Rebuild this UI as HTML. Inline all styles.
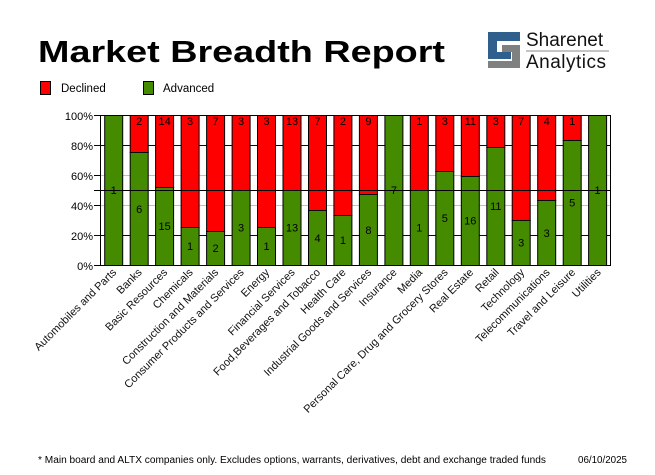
<!DOCTYPE html>
<html><head><meta charset="utf-8"><style>
body{margin:0;background:#fff;width:655px;height:470px;overflow:hidden}
text{font-family:"Liberation Sans",sans-serif}
</style></head><body>
<svg width="655" height="470" viewBox="0 0 655 470" xmlns="http://www.w3.org/2000/svg">
<text x="38" y="62" font-size="31" font-weight="bold" fill="#000" textLength="407" lengthAdjust="spacingAndGlyphs">Market Breadth Report</text>
<!-- logo -->
<g>
<path d="M488 32 H520 V41 H497 V48 H488 Z" fill="#2f5f8c"/>
<path d="M488 41 H497 V52 H511 V59 H488 Z" fill="#2f5f8c"/>
<path d="M502 45 H520 V68 H488 V61 H512 V52 H502 Z" fill="#7f8080"/>
<text x="526" y="46" font-size="19" fill="#111">Sharenet</text>
<line x1="526" y1="51" x2="609" y2="51" stroke="#888" stroke-width="1"/>
<text x="526" y="68" font-size="19" fill="#111" letter-spacing="0.5">Analytics</text>
</g>
<!-- legend -->
<rect x="40.5" y="81.5" width="10" height="13" fill="#ff0000" stroke="#000"/>
<text x="61" y="92" font-size="11.5">Declined</text>
<rect x="143.5" y="81.5" width="10" height="13" fill="#458b00" stroke="#000"/>
<text x="163" y="92" font-size="11.5">Advanced</text>
<!-- grid -->
<g stroke-width="1">
<line x1="94" y1="145.5" x2="611" y2="145.5" stroke="#000060"/>
<line x1="94" y1="235.5" x2="611" y2="235.5" stroke="#000060"/>
<line x1="100" y1="175.5" x2="611" y2="175.5" stroke="#c0c0c0"/>
<line x1="100" y1="205.5" x2="611" y2="205.5" stroke="#c0c0c0"/>
<line x1="94" y1="115.5" x2="100" y2="115.5" stroke="#000"/>
<line x1="94" y1="265.5" x2="100" y2="265.5" stroke="#000"/>
<line x1="94" y1="175.5" x2="100" y2="175.5" stroke="#000"/>
<line x1="94" y1="205.5" x2="100" y2="205.5" stroke="#000"/>
</g>
<g font-size="11" text-anchor="end">
<text x="93" y="120">100%</text><text x="93" y="150">80%</text><text x="93" y="180">60%</text>
<text x="93" y="210">40%</text><text x="93" y="240">20%</text><text x="93" y="270">0%</text>
</g>
<!-- bars -->
<g stroke="#000" stroke-width="1">
<rect x="104.7" y="115.5" width="18" height="150" fill="#458b00"/>
<rect x="130.2" y="115.5" width="18" height="37" fill="#ff0000"/><rect x="130.2" y="152.5" width="18" height="113" fill="#458b00"/>
<rect x="155.6" y="115.5" width="18" height="72" fill="#ff0000"/><rect x="155.6" y="187.5" width="18" height="78" fill="#458b00"/>
<rect x="181.1" y="115.5" width="18" height="112" fill="#ff0000"/><rect x="181.1" y="227.5" width="18" height="38" fill="#458b00"/>
<rect x="206.6" y="115.5" width="18" height="116" fill="#ff0000"/><rect x="206.6" y="231.5" width="18" height="34" fill="#458b00"/>
<rect x="232.1" y="115.5" width="18" height="75" fill="#ff0000"/><rect x="232.1" y="190.5" width="18" height="75" fill="#458b00"/>
<rect x="257.5" y="115.5" width="18" height="112" fill="#ff0000"/><rect x="257.5" y="227.5" width="18" height="38" fill="#458b00"/>
<rect x="283.0" y="115.5" width="18" height="75" fill="#ff0000"/><rect x="283.0" y="190.5" width="18" height="75" fill="#458b00"/>
<rect x="308.5" y="115.5" width="18" height="95" fill="#ff0000"/><rect x="308.5" y="210.5" width="18" height="55" fill="#458b00"/>
<rect x="333.9" y="115.5" width="18" height="100" fill="#ff0000"/><rect x="333.9" y="215.5" width="18" height="50" fill="#458b00"/>
<rect x="359.4" y="115.5" width="18" height="79" fill="#ff0000"/><rect x="359.4" y="194.5" width="18" height="71" fill="#458b00"/>
<rect x="384.9" y="115.5" width="18" height="150" fill="#458b00"/>
<rect x="410.3" y="115.5" width="18" height="75" fill="#ff0000"/><rect x="410.3" y="190.5" width="18" height="75" fill="#458b00"/>
<rect x="435.8" y="115.5" width="18" height="56" fill="#ff0000"/><rect x="435.8" y="171.5" width="18" height="94" fill="#458b00"/>
<rect x="461.3" y="115.5" width="18" height="61" fill="#ff0000"/><rect x="461.3" y="176.5" width="18" height="89" fill="#458b00"/>
<rect x="486.8" y="115.5" width="18" height="32" fill="#ff0000"/><rect x="486.8" y="147.5" width="18" height="118" fill="#458b00"/>
<rect x="512.2" y="115.5" width="18" height="105" fill="#ff0000"/><rect x="512.2" y="220.5" width="18" height="45" fill="#458b00"/>
<rect x="537.7" y="115.5" width="18" height="85" fill="#ff0000"/><rect x="537.7" y="200.5" width="18" height="65" fill="#458b00"/>
<rect x="563.2" y="115.5" width="18" height="25" fill="#ff0000"/><rect x="563.2" y="140.5" width="18" height="125" fill="#458b00"/>
<rect x="588.6" y="115.5" width="18" height="150" fill="#458b00"/>
</g>
<line x1="94" y1="190.5" x2="611" y2="190.5" stroke="#000"/>
<rect x="100.5" y="115.5" width="510" height="150" fill="none" stroke="#000"/>
<!-- value labels -->
<g font-size="11" text-anchor="middle">
<text x="139.2" y="125">2</text><text x="164.6" y="125">14</text><text x="190.1" y="125">3</text><text x="215.6" y="125">7</text>
<text x="241.1" y="125">3</text><text x="266.5" y="125">3</text><text x="292" y="125">13</text><text x="317.5" y="125">7</text>
<text x="342.9" y="125">2</text><text x="368.4" y="125">9</text><text x="419.3" y="125">1</text><text x="444.8" y="125">3</text>
<text x="470.3" y="125">11</text><text x="495.8" y="125">3</text><text x="521.2" y="125">7</text><text x="546.7" y="125">4</text>
<text x="572.2" y="125">1</text>
<text x="113.7" y="194">1</text><text x="139.2" y="213">6</text><text x="164.6" y="230">15</text><text x="190.1" y="250">1</text>
<text x="215.6" y="252">2</text><text x="241.1" y="231.5">3</text><text x="266.5" y="250">1</text><text x="292" y="231.5">13</text>
<text x="317.5" y="242">4</text><text x="342.9" y="244">1</text><text x="368.4" y="234">8</text><text x="393.9" y="194">7</text>
<text x="419.3" y="231.5">1</text><text x="444.8" y="222">5</text><text x="470.3" y="224.5">16</text><text x="495.8" y="210">11</text>
<text x="521.2" y="246.5">3</text><text x="546.7" y="237">3</text><text x="572.2" y="206.5">5</text><text x="597.6" y="194">1</text>
</g>
<!-- x labels -->
<g font-size="11" text-anchor="end" fill="#111">
<text transform="translate(117,273) rotate(-45)">Automobiles and Parts</text>
<text transform="translate(142.5,273) rotate(-45)">Banks</text>
<text transform="translate(168,273) rotate(-45)">Basic Resources</text>
<text transform="translate(193.5,273) rotate(-45)">Chemicals</text>
<text transform="translate(219,273) rotate(-45)">Construction and Materials</text>
<text transform="translate(244.5,273) rotate(-45)">Consumer Products and Services</text>
<text transform="translate(270,273) rotate(-45)">Energy</text>
<text transform="translate(295.5,273) rotate(-45)">Financial Services</text>
<text transform="translate(321,273) rotate(-45)">Food,Beverages and Tobacco</text>
<text transform="translate(346.5,273) rotate(-45)">Health Care</text>
<text transform="translate(372,273) rotate(-45)">Industrial Goods and Services</text>
<text transform="translate(397.5,273) rotate(-45)">Insurance</text>
<text transform="translate(423,273) rotate(-45)">Media</text>
<text transform="translate(448.5,273) rotate(-45)">Personal Care, Drug and Grocery Stores</text>
<text transform="translate(474,273) rotate(-45)">Real Estate</text>
<text transform="translate(499.5,273) rotate(-45)">Retail</text>
<text transform="translate(525,273) rotate(-45)">Technology</text>
<text transform="translate(550.5,273) rotate(-45)">Telecommunications</text>
<text transform="translate(576,273) rotate(-45)">Travel and Leisure</text>
<text transform="translate(601.5,273) rotate(-45)">Utilities</text>
</g>
<text x="38" y="463" font-size="10" textLength="508" lengthAdjust="spacingAndGlyphs">* Main board and ALTX companies only. Excludes options, warrants, derivatives, debt and exchange traded funds</text>
<text x="578" y="463" font-size="10" textLength="49" lengthAdjust="spacingAndGlyphs">06/10/2025</text>
</svg>
</body></html>
